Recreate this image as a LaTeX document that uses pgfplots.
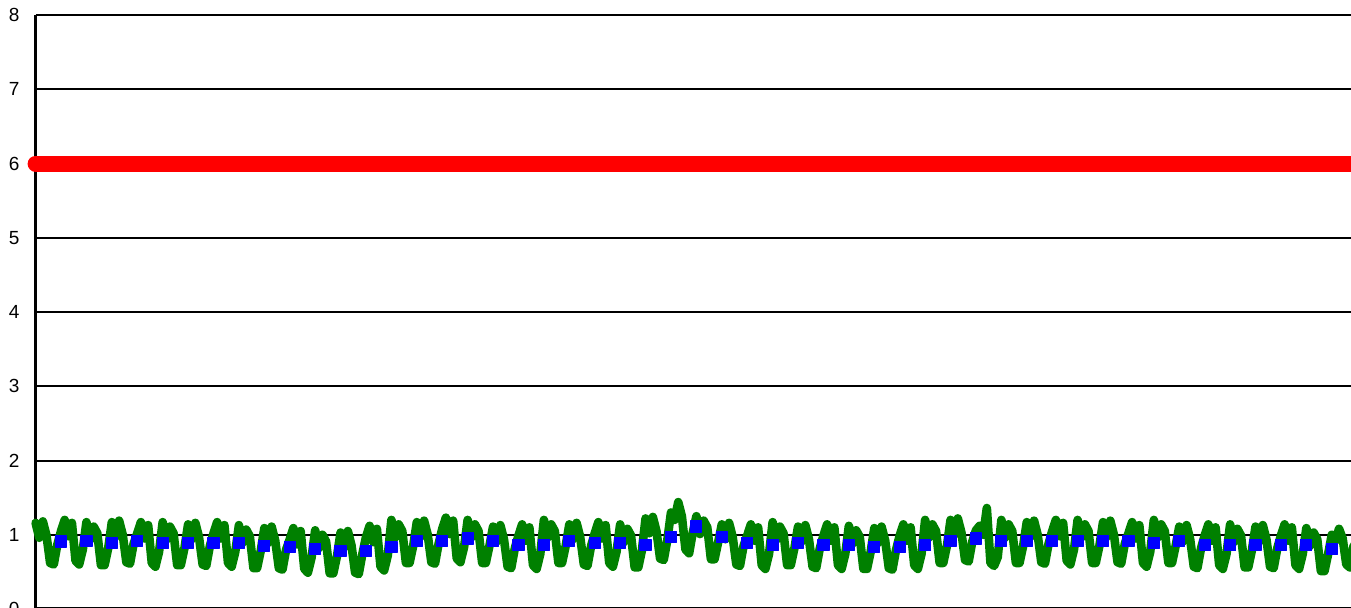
\documentclass[border=0pt]{standalone}
\usepackage{fontspec}
\setmainfont{Liberation Sans}
\usepackage{pgfplots}
\pgfplotsset{compat=1.18}

\definecolor{lineRed}{RGB}{255,0,0}
\definecolor{dayGreen}{RGB}{0,128,0}
\definecolor{weekBlue}{RGB}{0,0,255}

\begin{document}
\begin{tikzpicture}
\begin{axis}[
    at={(0,0)}, anchor=south west,
    scale only axis,
    width=657.7pt, height=297pt,
    xmin=0, xmax=362.3,
    ymin=0, ymax=8,
    axis lines*=left,
    axis line style={-, line width=1.8pt, black},
    xtick=\empty,
    ytick={0,1,...,8},
    major tick length=0pt,
    ymajorgrids,
    grid style={black, line width=1pt},
    tick label style={font=\fontsize{9.5pt}{11pt}\selectfont},
    yticklabel style={anchor=east, xshift=-4.5pt},
    /pgf/number format/assume math mode=true,
    clip=false,
]
% target level
\addplot[lineRed, line width=8pt, line cap=round] coordinates {(0,6) (362.3,6)};

% daily values
\addplot[dayGreen, line width=4.3pt, line join=round, line cap=round]
  table[row sep=\\, header=false, x expr=\coordindex, y index=0] {
1.16\\0.96\\1.18\\0.99\\0.62\\0.60\\0.87\\
1.05\\1.20\\0.98\\1.16\\0.65\\0.60\\0.80\\
1.17\\0.93\\1.11\\1.02\\0.59\\0.59\\0.82\\
1.17\\0.97\\1.19\\1.00\\0.63\\0.61\\0.88\\
1.02\\1.17\\0.95\\1.13\\0.62\\0.57\\0.77\\
1.17\\0.93\\1.11\\1.02\\0.59\\0.59\\0.82\\
1.14\\0.94\\1.16\\0.97\\0.60\\0.58\\0.85\\
1.02\\1.17\\0.95\\1.13\\0.62\\0.57\\0.77\\
1.13\\0.89\\1.07\\0.98\\0.55\\0.55\\0.78\\
1.09\\0.89\\1.11\\0.92\\0.55\\0.53\\0.80\\
0.94\\1.09\\0.87\\1.05\\0.54\\0.49\\0.69\\
1.06\\0.82\\1.00\\0.91\\0.48\\0.48\\0.71\\
1.03\\0.83\\1.05\\0.86\\0.49\\0.47\\0.74\\
0.97\\1.12\\0.90\\1.08\\0.57\\0.52\\0.72\\
1.20\\0.96\\1.14\\1.05\\0.62\\0.62\\0.85\\
1.17\\0.97\\1.19\\1.00\\0.63\\0.61\\0.88\\
1.08\\1.23\\1.01\\1.19\\0.68\\0.63\\0.83\\
1.20\\0.96\\1.14\\1.05\\0.62\\0.62\\0.85\\
1.11\\0.91\\1.13\\0.94\\0.57\\0.55\\0.82\\
0.99\\1.14\\0.92\\1.10\\0.59\\0.54\\0.74\\
1.20\\0.96\\1.14\\1.05\\0.62\\0.62\\0.85\\
1.14\\0.94\\1.16\\0.97\\0.60\\0.58\\0.85\\
1.02\\1.17\\0.95\\1.13\\0.62\\0.57\\0.77\\
1.14\\0.90\\1.08\\0.99\\0.56\\0.56\\0.79\\
1.22\\1.02\\1.24\\1.05\\0.68\\0.66\\0.93\\
1.30\\1.20\\1.44\\1.25\\0.80\\0.75\\1.03\\
1.25\\1.01\\1.19\\1.10\\0.67\\0.67\\0.90\\
1.14\\0.94\\1.16\\0.97\\0.60\\0.58\\0.85\\
0.99\\1.14\\0.92\\1.10\\0.59\\0.54\\0.74\\
1.17\\0.93\\1.11\\1.02\\0.59\\0.59\\0.82\\
1.11\\0.91\\1.13\\0.94\\0.57\\0.55\\0.82\\
0.99\\1.14\\0.92\\1.10\\0.59\\0.54\\0.74\\
1.12\\0.88\\1.06\\0.97\\0.54\\0.54\\0.77\\
1.09\\0.89\\1.11\\0.92\\0.55\\0.53\\0.80\\
0.99\\1.14\\0.92\\1.10\\0.59\\0.54\\0.74\\
1.20\\0.96\\1.14\\1.05\\0.62\\0.62\\0.85\\
1.20\\1.00\\1.22\\1.03\\0.66\\0.64\\0.91\\
1.06\\1.12\\1.00\\1.36\\0.62\\0.58\\0.70\\
1.20\\0.96\\1.14\\1.05\\0.62\\0.62\\0.85\\
1.17\\0.97\\1.19\\1.00\\0.63\\0.61\\0.88\\
1.05\\1.20\\0.98\\1.16\\0.65\\0.60\\0.80\\
1.20\\0.96\\1.14\\1.05\\0.62\\0.62\\0.85\\
1.17\\0.97\\1.19\\1.00\\0.63\\0.61\\0.88\\
1.02\\1.17\\0.95\\1.13\\0.62\\0.57\\0.77\\
1.20\\0.96\\1.14\\1.05\\0.62\\0.62\\0.85\\
1.11\\0.91\\1.13\\0.94\\0.57\\0.55\\0.82\\
0.99\\1.14\\0.92\\1.10\\0.59\\0.54\\0.74\\
1.14\\0.90\\1.08\\0.99\\0.56\\0.56\\0.79\\
1.11\\0.91\\1.13\\0.94\\0.57\\0.55\\0.82\\
0.99\\1.14\\0.92\\1.10\\0.59\\0.54\\0.74\\
1.09\\0.85\\1.03\\0.94\\0.51\\0.51\\0.74\\
1.00\\0.92\\1.08\\0.95\\0.60\\0.56\\0.85\\
};

% weekly averages
\addplot[only marks, mark=square*, mark size=2.75pt,
    mark options={weekBlue, fill=weekBlue, line width=0.6pt, line join=round}]
  coordinates {
(7,0.91) (14,0.92) (21,0.89) (28,0.92) (35,0.89) (42,0.89) (49,0.89)
(56,0.89) (63,0.85) (70,0.84) (77,0.81) (84,0.78) (91,0.78) (98,0.84)
(105,0.92) (112,0.92) (119,0.95) (126,0.92) (133,0.86) (140,0.86) (147,0.92)
(154,0.89) (161,0.89) (168,0.86) (175,0.97) (182,1.11) (189,0.97) (196,0.89)
(203,0.86) (210,0.89) (217,0.86) (224,0.86) (231,0.84) (238,0.84) (245,0.86)
(252,0.92) (259,0.95) (266,0.92) (273,0.92) (280,0.92) (287,0.92) (294,0.92)
(301,0.92) (308,0.89) (315,0.92) (322,0.86) (329,0.86) (336,0.86) (343,0.86)
(350,0.86) (357,0.81)
};
\end{axis}
\pgfresetboundingbox
\path[use as bounding box] (-17.8pt,1pt) rectangle (657.7pt,304.5pt);
\end{tikzpicture}
\end{document}
